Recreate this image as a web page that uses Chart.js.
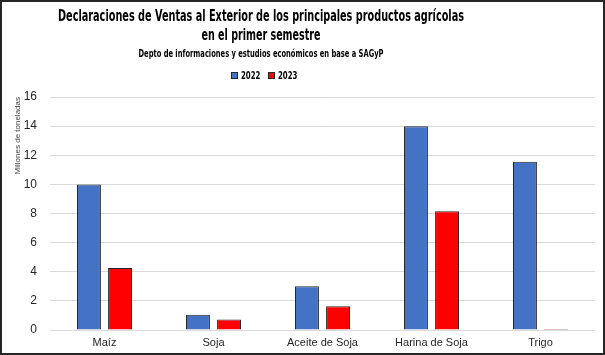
<!DOCTYPE html>
<html><head><meta charset="utf-8">
<script src="https://cdn.jsdelivr.net/npm/chart.js@4"></script>
<style>
html,body{margin:0;padding:0;background:#fff}
#wrap{position:relative;width:605px;height:355px;overflow:hidden;background:#fff}
#c{display:block}
#frame{position:absolute;left:0;top:0;width:605px;height:355px;box-sizing:border-box;border:2px solid #262626;pointer-events:none}
.t{position:absolute;left:0;width:522px;height:16px;white-space:nowrap;font-family:"Liberation Sans Narrow","DejaVu Sans Condensed","Liberation Sans",sans-serif;font-weight:bold;color:#000}
.t span.fit{position:absolute;left:261px;top:0;white-space:nowrap;transform-origin:0 50%}
#legend{display:flex;justify-content:center;align-items:center;left:3px}
#legend .it{display:flex;align-items:center;margin:0 4px}
#legend .bx{display:inline-block;width:7px;height:7px;box-sizing:border-box;border:1px solid #262626;margin-right:3px}
#legend .tx{display:inline-block;transform-origin:0 50%}
</style></head>
<body>
<div id="wrap">
  <canvas id="c" width="605" height="355"></canvas>
  <div class="t" style="top:9px;font-size:15px;line-height:15px"><span class="fit" data-w="406">Declaraciones de Ventas al Exterior de los principales productos agrícolas</span></div>
  <div class="t" style="top:28px;font-size:15px;line-height:15px"><span class="fit" data-w="119">en el primer semestre</span></div>
  <div class="t" style="top:49px;font-size:10px;line-height:10px"><span class="fit" data-w="245">Depto de informaciones y estudios económicos en base a SAGyP</span></div>
  <div class="t" id="legend" style="top:67px;font-size:11px;line-height:11px"></div>
  <div id="frame"></div>
</div>
<script>
const categories = ["Maíz", "Soja", "Aceite de Soja", "Harina de Soja", "Trigo"];
const seriesNames = ["2022", "2023"];
const values2022 = [10.0, 1.05, 3.0, 14.0, 11.55];
const values2023 = [4.25, 0.72, 1.63, 8.15, 0.07];
const yTicks = [0, 2, 4, 6, 8, 10, 12, 14, 16];
const yTitle = "Millones de toneladas";

const colors = ["#4472C4", "#FF0000"];

const chart = new Chart(document.getElementById('c'), {
  type: 'bar',
  data: {
    labels: categories,
    datasets: [values2022, values2023].map((v, i) => ({
      label: seriesNames[i],
      data: v,
      backgroundColor: colors[i],
      borderColor: '#262626',
      borderWidth: 1,
      categoryPercentage: 0.57,
      barPercentage: 0.77
    }))
  },
  options: {
    responsive: false,
    animation: false,
    devicePixelRatio: 1,
    layout: { padding: { top: 97, right: 10, bottom: 0, left: 0 } },
    plugins: { legend: { display: false }, title: { display: false }, tooltip: { enabled: false } },
    scales: {
      x: {
        grid: { display: false, drawTicks: false },
        border: { display: false },
        ticks: { color: '#262626', font: { family: 'Liberation Sans', size: 11 }, padding: 6, maxRotation: 0 },
        afterFit: s => { s.height = 25; }
      },
      y: {
        min: yTicks[0], max: yTicks[yTicks.length - 1],
        afterBuildTicks: s => { s.ticks = yTicks.map(v => ({ value: v })); },
        grid: { color: '#d9d9d9', lineWidth: 1, drawTicks: false },
        border: { display: false },
        ticks: { color: '#262626', font: { family: 'Liberation Sans', size: 12 }, padding: 13 },
        title: { display: true, text: yTitle, align: 'end', color: '#404040', font: { family: 'Liberation Sans', size: 8 }, padding: { top: 13, bottom: 0 } },
        afterFit: s => { s.width = 50; }
      }
    }
  }
});

// legend built from the chart datasets
const lg = document.getElementById('legend');
chart.data.datasets.forEach(ds => {
  const it = document.createElement('span'); it.className = 'it';
  const bx = document.createElement('span'); bx.className = 'bx'; bx.style.background = ds.backgroundColor;
  const tx = document.createElement('span'); tx.className = 'tx'; tx.textContent = ds.label;
  it.appendChild(bx); it.appendChild(tx); lg.appendChild(it);
});
document.querySelectorAll('#legend .tx').forEach(tx => {
  const w = tx.getBoundingClientRect().width;
  const target = 19.5;
  tx.style.transform = 'scaleX(' + (target / w) + ')';
  tx.style.marginRight = (target - w) + 'px';
});

document.querySelectorAll('span.fit').forEach(sp => {
  const w = sp.getBoundingClientRect().width;
  const target = parseFloat(sp.dataset.w);
  sp.style.transform = 'translateX(' + (-target / 2) + 'px) scaleX(' + (target / w) + ')';
});
</script>
</body></html>
